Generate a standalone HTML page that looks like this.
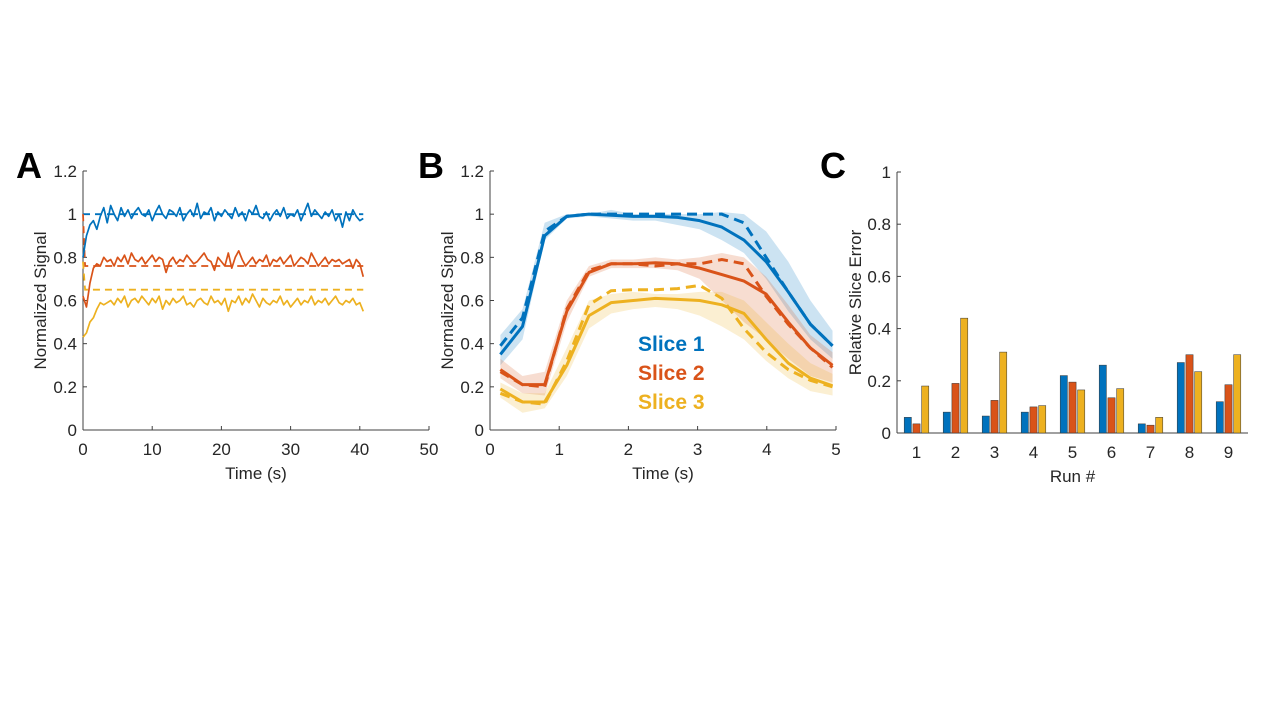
<!DOCTYPE html>
<html><head><meta charset="utf-8"><style>
html,body{margin:0;padding:0;background:#fff;}
svg{display:block;font-family:"Liberation Sans",Arial,sans-serif;}
</style></head><body>
<svg id="fig" width="1280" height="720" viewBox="0 0 1280 720" xmlns="http://www.w3.org/2000/svg">
<g id="pA"></g>
<g id="pB"></g>
<g id="pC"></g>
</svg>
<script>
// ---- Panel A data ----
const aDt = 0.5;
const aBlue = [0.80,0.90,0.95,0.97,0.93,0.99,1.03,0.96,1.04,1.00,0.97,1.03,0.99,1.02,0.98,1.01,1.03,1.00,0.99,1.02,0.97,1.01,1.04,1.00,0.98,1.02,1.01,0.99,1.03,0.97,1.00,1.02,0.99,1.05,0.98,1.01,1.00,1.03,0.97,1.01,0.99,1.02,1.00,0.98,1.03,0.99,1.01,0.97,1.02,1.00,1.04,0.99,0.98,1.01,0.97,1.00,1.02,0.99,1.03,0.98,1.00,0.99,1.02,0.97,1.01,1.05,0.99,1.02,1.00,0.98,1.01,0.99,1.02,0.97,1.00,0.94,1.01,0.97,1.02,0.99,0.97,0.98];
const aRed = [0.62,0.57,0.68,0.75,0.77,0.76,0.80,0.78,0.79,0.76,0.80,0.78,0.81,0.77,0.82,0.79,0.78,0.80,0.77,0.79,0.81,0.78,0.80,0.79,0.73,0.78,0.80,0.77,0.79,0.78,0.81,0.79,0.77,0.78,0.80,0.82,0.79,0.78,0.74,0.80,0.78,0.76,0.82,0.75,0.80,0.83,0.79,0.76,0.78,0.80,0.77,0.79,0.78,0.81,0.76,0.79,0.78,0.80,0.77,0.79,0.81,0.76,0.78,0.80,0.79,0.77,0.82,0.79,0.76,0.78,0.80,0.77,0.79,0.78,0.79,0.77,0.78,0.79,0.75,0.79,0.77,0.71];
const aYellow = [0.43,0.45,0.50,0.52,0.56,0.59,0.58,0.59,0.60,0.58,0.61,0.59,0.62,0.57,0.60,0.61,0.59,0.62,0.60,0.58,0.61,0.59,0.62,0.56,0.60,0.58,0.61,0.59,0.60,0.62,0.58,0.59,0.57,0.60,0.61,0.59,0.58,0.62,0.59,0.60,0.58,0.61,0.55,0.60,0.59,0.62,0.58,0.61,0.59,0.63,0.60,0.57,0.61,0.59,0.58,0.60,0.59,0.62,0.58,0.60,0.57,0.59,0.61,0.58,0.60,0.59,0.62,0.58,0.60,0.59,0.61,0.58,0.60,0.62,0.59,0.58,0.60,0.59,0.61,0.58,0.59,0.55];
const aRefT = [0, 0.3, 40.5];
const aRefBlue = [1.0, 1.0, 1.0];
const aRefRed = [1.0, 0.76, 0.76];
const aRefYellow = [0.78, 0.65, 0.65];
const aXTicks = [0,10,20,30,40,50];
const yTicks = [0,0.2,0.4,0.6,0.8,1,1.2];
const yTickLabels = ["0","0.2","0.4","0.6","0.8","1","1.2"];
// ---- Panel B data ----
const bT = [0.15,0.47,0.79,1.11,1.43,1.75,2.07,2.39,2.71,3.03,3.35,3.67,3.99,4.31,4.63,4.95];
const b1 = [0.35,0.48,0.90,0.99,1.0,0.995,0.99,0.99,0.985,0.97,0.94,0.88,0.78,0.64,0.49,0.39];
const b1d = [0.39,0.52,0.92,0.99,1.0,1.0,1.0,1.0,1.0,1.0,1.0,0.96,0.80,0.64,0.49,0.39];
const b1lo = [0.30,0.42,0.88,0.98,0.99,0.98,0.97,0.97,0.95,0.93,0.88,0.82,0.70,0.55,0.42,0.33];
const b1hi = [0.44,0.56,0.96,1.0,1.0,1.02,1.0,1.0,1.0,1.0,1.01,1.0,0.92,0.78,0.60,0.46];
const b2 = [0.28,0.21,0.21,0.55,0.73,0.77,0.77,0.775,0.77,0.75,0.72,0.69,0.63,0.50,0.38,0.30];
const b2d = [0.27,0.21,0.20,0.56,0.74,0.77,0.77,0.76,0.77,0.77,0.79,0.77,0.62,0.49,0.38,0.29];
const b2lo = [0.24,0.17,0.16,0.50,0.71,0.75,0.75,0.75,0.74,0.70,0.60,0.50,0.42,0.33,0.25,0.22];
const b2hi = [0.33,0.25,0.27,0.60,0.76,0.79,0.79,0.80,0.79,0.80,0.82,0.80,0.71,0.58,0.44,0.36];
const b3 = [0.19,0.13,0.13,0.30,0.53,0.59,0.60,0.61,0.605,0.60,0.58,0.54,0.42,0.31,0.24,0.205];
const b3d = [0.17,0.13,0.12,0.32,0.58,0.645,0.65,0.65,0.655,0.67,0.61,0.47,0.36,0.28,0.23,0.20];
const b3lo = [0.15,0.08,0.10,0.25,0.47,0.54,0.56,0.57,0.56,0.53,0.48,0.42,0.32,0.24,0.18,0.16];
const b3hi = [0.22,0.17,0.17,0.38,0.60,0.63,0.64,0.63,0.63,0.64,0.64,0.60,0.50,0.40,0.31,0.26];
const bXTicks = [0,1,2,3,4,5];
// ---- Panel C data ----
const cRuns = ["1","2","3","4","5","6","7","8","9"];
const cSlice1 = [0.06,0.08,0.065,0.08,0.22,0.26,0.035,0.27,0.12];
const cSlice2 = [0.035,0.19,0.125,0.10,0.195,0.135,0.03,0.30,0.185];
const cSlice3 = [0.18,0.44,0.31,0.105,0.165,0.17,0.06,0.235,0.30];
const cYTicks = [0,0.2,0.4,0.6,0.8,1];
const cYTickLabels = ["0","0.2","0.4","0.6","0.8","1"];

const C1="#0072BD",C2="#D95319",C3="#EDB120",AX="#404040";
const NS="http://www.w3.org/2000/svg";
function mk(parent,tag,attrs,text){const e=document.createElementNS(NS,tag);for(const k in attrs)e.setAttribute(k,attrs[k]);if(text!==undefined)e.textContent=text;parent.appendChild(e);return e;}
function lin(d0,d1,r0,r1){return v=>r0+(v-d0)/(d1-d0)*(r1-r0);}
function pathD(xs,ys,sx,sy){return xs.map((x,i)=>(i?"L":"M")+sx(x).toFixed(2)+","+sy(ys[i]).toFixed(2)).join(" ");}

function axes(g,sx,sy,x0,x1,y0,y1,xt,xl,yt,yl,xTitle,yTitle,yTitleX,name){
  const ax=mk(g,"g",{});
  
  
  mk(ax,"line",{x1:sx(x0),y1:sy(y0),x2:sx(x1),y2:sy(y0),stroke:AX,"stroke-width":1});
  mk(ax,"line",{x1:sx(x0),y1:sy(y0),x2:sx(x0),y2:sy(y1),stroke:AX,"stroke-width":1});
  xt.forEach((v,i)=>{
    mk(ax,"line",{x1:sx(v),y1:sy(y0),x2:sx(v),y2:sy(y0)-4,stroke:AX});
    const t=mk(ax,"text",{x:sx(v),y:sy(y0)+25,"text-anchor":"middle","font-size":17,fill:"#262626"},xl[i]);
    
    
  });
  yt.forEach((v,i)=>{
    mk(ax,"line",{x1:sx(x0),y1:sy(v),x2:sx(x0)+4,y2:sy(v),stroke:AX});
    const t=mk(ax,"text",{x:sx(x0)-6,y:sy(v)+6,"text-anchor":"end","font-size":17,fill:"#262626"},yl[i]);
    
    
  });
  const xtT=mk(ax,"text",{x:(sx(x0)+sx(x1))/2,y:sy(y0)+49,"text-anchor":"middle","font-size":17,fill:"#262626"},xTitle);
  
  
  const cy=(sy(y0)+sy(y1))/2;
  const ytT=mk(ax,"text",{x:yTitleX,y:cy,"text-anchor":"middle","font-size":17,fill:"#262626",transform:`rotate(-90 ${yTitleX} ${cy})`},yTitle);
  
  
}
function letter(g,x,y,s,name){
  const t=mk(g,"text",{x:x,y:y,"font-size":36,"font-weight":"bold",fill:"#000"},s);
  
  
}

// Panel A
(function(){
  const g=document.getElementById("pA");
  const sx=lin(0,50,83,429), sy=lin(0,1.2,430,171);
  axes(g,sx,sy,0,50,0,1.2,aXTicks,aXTicks.map(String),yTicks,yTickLabels,"Time (s)","Normalized Signal",46,"panel-a");
  letter(g,16,178,"A","panel-a-label");
  const tt=aBlue.map((_,i)=>i*aDt);
  [[aRefBlue,C1,"ref-line-slice1"],[aRefRed,C2,"ref-line-slice2"],[aRefYellow,C3,"ref-line-slice3"]].forEach(([ys,c,n])=>{
    const p=mk(g,"path",{d:pathD(aRefT,ys,sx,sy),fill:"none",stroke:c,"stroke-width":1.8,"stroke-dasharray":"7,5"});
    
    
  });
  [[aBlue,C1,"signal-line-slice1"],[aRed,C2,"signal-line-slice2"],[aYellow,C3,"signal-line-slice3"]].forEach(([ys,c,n])=>{
    const p=mk(g,"path",{d:pathD(tt,ys,sx,sy),fill:"none",stroke:c,"stroke-width":1.7,"stroke-linejoin":"round"});
    
    
  });
})();

// Panel B
(function(){
  const g=document.getElementById("pB");
  const sx=lin(0,5,490,836), sy=lin(0,1.2,430,171);
  axes(g,sx,sy,0,5,0,1.2,bXTicks,bXTicks.map(String),yTicks,yTickLabels,"Time (s)","Normalized Signal",453,"panel-b");
  letter(g,418,178,"B","panel-b-label");
  const sets=[[b1,b1d,b1lo,b1hi,C1,"slice1"],[b2,b2d,b2lo,b2hi,C2,"slice2"],[b3,b3d,b3lo,b3hi,C3,"slice3"]];
  sets.forEach(([s,d,lo,hi,c,n])=>{
    const dd=pathD(bT,hi,sx,sy)+" "+bT.slice().reverse().map((x,i)=>"L"+sx(x).toFixed(2)+","+sy(lo[lo.length-1-i]).toFixed(2)).join(" ")+" Z";
    const p=mk(g,"path",{d:dd,fill:c,"fill-opacity":0.2,stroke:"none"});
    
    
  });
  sets.forEach(([s,d,lo,hi,c,n])=>{
    const p1=mk(g,"path",{d:pathD(bT,d,sx,sy),fill:"none",stroke:c,"stroke-width":3,"stroke-dasharray":"10,6"});
    
    
    const p2=mk(g,"path",{d:pathD(bT,s,sx,sy),fill:"none",stroke:c,"stroke-width":3,"stroke-linejoin":"round"});
    
    
  });
  [["Slice 1",C1,351],["Slice 2",C2,380],["Slice 3",C3,409]].forEach(([s,c,y],i)=>{
    const t=mk(g,"text",{x:638,y:y,"font-size":21,"font-weight":"bold",fill:c},s);
    
    
  });
})();

// Panel C
(function(){
  const g=document.getElementById("pC");
  const sx=lin(0.5,9.5,897,1248), sy=lin(0,1,433,172);
  axes(g,sx,sy,0.5,9.5,0,1,[],[],cYTicks,cYTickLabels,"Run #","Relative Slice Error",861,"panel-c");
  letter(g,820,178,"C","panel-c-label");
  cRuns.forEach((r,i)=>{
    const t=mk(g,"text",{x:sx(i+1),y:sy(0)+25,"text-anchor":"middle","font-size":17,fill:"#262626"},r);
    
    
    mk(g,"line",{x1:sx(i+1),y1:sy(0),x2:sx(i+1),y2:sy(0)-4,stroke:AX});
  });
  const bw=7.2, off=8.7;
  [[cSlice1,C1,-1],[cSlice2,C2,0],[cSlice3,C3,1]].forEach(([vals,c,k],si)=>{
    vals.forEach((v,i)=>{
      const cx=sx(i+1)+k*off;
      const r=mk(g,"rect",{x:cx-bw/2,y:sy(v),width:bw,height:sy(0)-sy(v),fill:c,stroke:"#333","stroke-width":0.5});
      
      
    });
  });
})();
</script>
</body></html>
